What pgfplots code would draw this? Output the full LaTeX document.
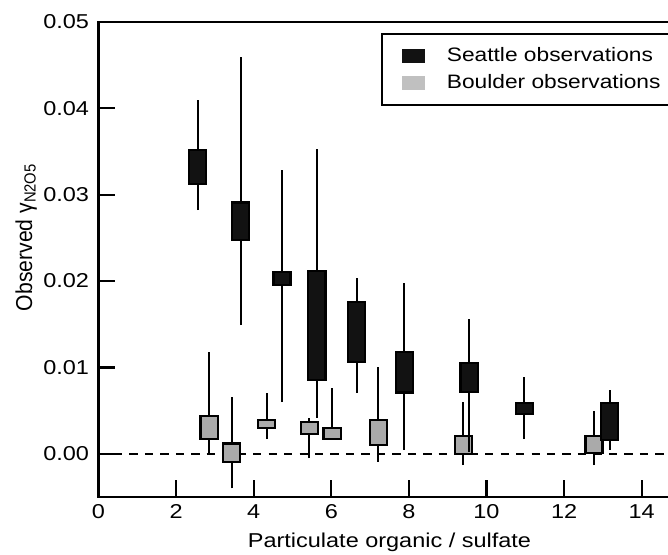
\documentclass[border=0pt]{standalone}
\usepackage{fontspec}
\setmainfont{Liberation Sans}[FakeStretch=1.17]
\newfontfamily\ylabfont{Liberation Sans}[FakeStretch=0.92]
\usepackage{pgfplots}
\pgfplotsset{compat=1.18}
\definecolor{seacol}{HTML}{121212}
\definecolor{boucol}{HTML}{AAAAAA}
\definecolor{bouleg}{HTML}{C0C0C0}
% #1 fill colour, #2 position, #3 lower whisker, #4 lower quartile, #5 upper quartile, #6 upper whisker
\newcommand{\obsbox}[6]{%
  \addplot[black, line width=1pt, forget plot] coordinates {(#2,#3) (#2,#6)};
  \pgfmathsetmacro\xa{#2-0.22}\pgfmathsetmacro\xb{#2+0.22}%
  \edef\tmp{\noexpand\addplot[draw=black, fill=#1, line width=1pt, forget plot] coordinates {(\xa,#4) (\xb,#4) (\xb,#5) (\xa,#5)} -- cycle;}\tmp
}
\begin{document}
\begin{tikzpicture}[font=\fontsize{9.6}{11.5}\selectfont]
\begin{axis}[
  scale only axis, width=278.5pt, height=227.3pt,
  xmin=0, xmax=15, ymin=-0.005, ymax=0.05,
  xtick={0,2,4,6,8,10,12,14},
  ytick={0,0.01,0.02,0.03,0.04,0.05},
  scaled y ticks=false,
  /pgf/number format/assume math mode=true,
  yticklabel style={/pgf/number format/fixed, /pgf/number format/fixed zerofill, /pgf/number format/precision=2, inner xsep=4.3pt},
  xticklabel style={inner ysep=3.6pt},
  tick pos=left, tick align=inside, major tick length=8.1pt,
  axis line style={line width=1.2pt},
  every tick/.style={black, line width=1pt},
  xlabel={Particulate organic / sulfate},
  ylabel={\ylabfont\fontsize{11}{13}\selectfont Observed γ\textsubscript{N2O5}},
  every axis x label/.style={at={(rel axis cs:0.5,-0.107)}, anchor=base},
  every axis y label/.style={at={(rel axis cs:-0.114,0.547)}, rotate=90, anchor=base},
  legend style={at={(rel axis cs:0.4855,0.9775)}, anchor=north west, draw=black, line width=1pt,
    font=\fontsize{9.3}{11}\selectfont, inner xsep=9.5pt, inner ysep=6.4pt, row sep=5pt,
    nodes={inner sep=0pt}},
  legend cell align=left,
]
\coordinate (sw) at (rel axis cs:0,0);
\addplot[black, line width=1pt, dash pattern=on 4pt off 3.4pt, forget plot] coordinates {(0,0) (15,0)};
% Boulder observations
\obsbox{boucol}{2.85}{0.0000}{0.0017}{0.0044}{0.0118}
\obsbox{boucol}{3.43}{-0.0040}{-0.0009}{0.0012}{0.0066}
\obsbox{boucol}{4.34}{0.0017}{0.0030}{0.0039}{0.0071}
\obsbox{boucol}{5.43}{-0.0005}{0.0023}{0.0037}{0.0042}
\obsbox{boucol}{6.02}{0.0017}{0.0017}{0.0030}{0.0076}
\obsbox{boucol}{7.21}{-0.0009}{0.0010}{0.0039}{0.0101}
\obsbox{boucol}{9.40}{-0.0013}{0.0000}{0.0021}{0.0060}
\obsbox{boucol}{12.77}{-0.0013}{0.0001}{0.0021}{0.0050}
% Seattle observations
\obsbox{seacol}{2.56}{0.0282}{0.0312}{0.0352}{0.0410}
\obsbox{seacol}{3.67}{0.0149}{0.0248}{0.0291}{0.0459}
\obsbox{seacol}{4.73}{0.0060}{0.0195}{0.0211}{0.0329}
\obsbox{seacol}{5.63}{0.0042}{0.0086}{0.0212}{0.0353}
\obsbox{seacol}{6.66}{0.0071}{0.0106}{0.0176}{0.0203}
\obsbox{seacol}{7.88}{0.0005}{0.0071}{0.0118}{0.0198}
\obsbox{seacol}{9.55}{0.0002}{0.0072}{0.0105}{0.0156}
\obsbox{seacol}{10.97}{0.0017}{0.0046}{0.0059}{0.0089}
\obsbox{seacol}{13.18}{0.0005}{0.0016}{0.0059}{0.0074}
\addlegendimage{legend image code/.code={\fill[seacol] (0pt,-2.85pt) rectangle (10pt,2.85pt);}}
\addlegendentry{\hspace*{10.5pt}Seattle observations\hspace*{14pt}}
\addlegendimage{legend image code/.code={\fill[bouleg] (0pt,-2.85pt) rectangle (10pt,2.85pt);}}
\addlegendentry{\hspace*{10.5pt}Boulder observations\hspace*{14pt}}
\end{axis}
\pgfresetboundingbox
\path[use as bounding box] (sw) ++(-47.1pt,-27.3pt) rectangle ++(319.6pt,265.1pt);
\end{tikzpicture}
\end{document}
